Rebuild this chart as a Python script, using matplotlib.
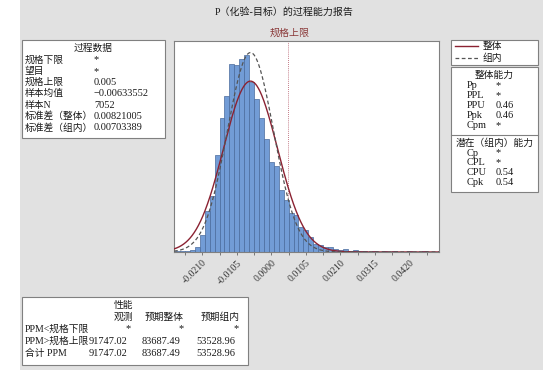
import numpy as np
import matplotlib
matplotlib.use('Agg')
import matplotlib.pyplot as plt
from matplotlib.patches import Rectangle
from matplotlib.lines import Line2D

plt.rcParams['font.family'] = ['Liberation Serif', 'Noto Sans CJK SC']

# histogram bins: midpoint = index * bin_width
bin_width = 0.0015
bin_index = list(range(-19, 34))
counts = [2, 2, 4, 7, 15, 50, 122, 167, 291, 404, 470, 566, 561, 582, 593,
          511, 459, 404, 341, 270, 259, 185, 155, 117, 111, 74, 66, 44, 25,
          20, 15, 14, 8, 5, 10, 4, 7, 3, 2, 1, 2, 1, 2, 1, 2, 1, 1, 2, 1, 1,
          2, 1, 1]

n_total = 7052
mean = -0.00633552
sd_overall = 0.00821005
sd_within = 0.00703389
usl = 0.005

tick_values = [-0.0210, -0.0105, 0.0, 0.0105, 0.0210, 0.0315, 0.0420]
tick_labels = ['-0.0210', '-0.0105', '0.0000', '0.0105', '0.0210', '0.0315', '0.0420']

process_labels = ['规格下限', '望目', '规格上限', '样本均值', '样本N', '标准差（整体）', '标准差（组内）']
process_values = ['*', '*', '0.005', '\u22120.00633552', '7052', '0.00821005', '0.00703389']

overall_labels = ['Pp', 'PPL', 'PPU', 'Ppk', 'Cpm']
overall_values = ['*', '*', '0.46', '0.46', '*']
within_labels = ['Cp', 'CPL', 'CPU', 'Cpk']
within_values = ['*', '*', '0.54', '0.54']

ppm_rows = ['PPM<规格下限', 'PPM>规格上限', '合计 PPM']
ppm_observed = ['*', '91747.02', '91747.02']
ppm_exp_overall = ['*', '83687.49', '83687.49']
ppm_exp_within = ['*', '53528.96', '53528.96']

W, H = 560, 372
fig = plt.figure(figsize=(W / 100, H / 100), dpi=100)
fig.patch.set_facecolor('white')

def fx(x):
    return x / W

def fy(y):
    return 1 - y / H

def box(x0, y0, x1, y1):
    fig.add_artist(Rectangle((fx(x0), fy(y1)), (x1 - x0) / W, (y1 - y0) / H,
                             transform=fig.transFigure, facecolor='white',
                             edgecolor='#808080', lw=0.8))

def txt(x, y, s, ha='left', size=7.5, color='#1a1a1a'):
    fig.text(fx(x), fy(y), s, ha=ha, va='center', fontsize=size, color=color)

# gray report background
fig.add_artist(Rectangle((fx(20), fy(370)), 523 / W, 370 / H, transform=fig.transFigure,
                         facecolor='#e1e1e1', edgecolor='none', zorder=-5))

txt(284, 12, 'P（化验-目标）的过程能力报告', ha='center', size=7.2)

# histogram
ax = fig.add_axes([fx(174), fy(252), 265 / W, 211 / H])
mids = np.array(bin_index) * bin_width
dens = np.array(counts) / (n_total * bin_width)
ax.bar(mids, dens, width=bin_width, color='#729cd6', edgecolor='#4a6b9c', lw=0.5, zorder=2)

xs = np.linspace(-0.0296, 0.0510, 500)
pdf_o = np.exp(-0.5 * ((xs - mean) / sd_overall) ** 2) / (sd_overall * np.sqrt(2 * np.pi))
pdf_w = np.exp(-0.5 * ((xs - mean) / sd_within) ** 2) / (sd_within * np.sqrt(2 * np.pi))
ax.plot(xs, pdf_o, color='#8b2232', lw=1.0, zorder=3)
ax.plot(xs, pdf_w, color='#555555', lw=0.9, ls=(0, (3, 2)), zorder=3)
ax.axvline(usl, color='#b05060', lw=0.6, ls=(0, (1, 1.5)), zorder=1)

ax.set_xlim(-0.0296, 0.0510)
ax.set_ylim(0, 60)
ax.set_yticks([])
ax.set_xticks(tick_values)
ax.set_xticklabels(tick_labels, rotation=45, ha='right', rotation_mode='anchor',
                   fontsize=7, color='#333333')
ax.set_xticks([v + 0.00525 for v in [-0.0315] + tick_values], minor=True)
ax.tick_params(axis='x', which='both', length=2.5, width=0.6, color='#666666', pad=2)
for s in ax.spines.values():
    s.set_color('#808080')
    s.set_linewidth(0.8)

fig.text(fx(290), fy(33), '规格上限', ha='center', va='center', fontsize=7.2, color='#8b3a3a')

# process data box
box(22, 40, 165, 138)
txt(93, 48, '过程数据', ha='center', size=7)
for i, (lab, val) in enumerate(zip(process_labels, process_values)):
    y = 60 + i * 11.3
    txt(25, y, lab, size=7)
    txt(94, y, val)

# legend box
box(451, 40, 538, 65)
fig.add_artist(Line2D([fx(455), fx(478)], [fy(46), fy(46)], transform=fig.transFigure,
                      color='#8b2232', lw=1.0))
fig.add_artist(Line2D([fx(455), fx(478)], [fy(58), fy(58)], transform=fig.transFigure,
                      color='#555555', lw=0.9, ls=(0, (3, 2))))
txt(483, 46, '整体', size=7)
txt(483, 58, '组内', size=7)

# capability boxes
box(451, 67, 538, 192)
fig.add_artist(Line2D([fx(451), fx(538)], [fy(135), fy(135)], transform=fig.transFigure,
                      color='#808080', lw=0.8))
txt(494, 75, '整体能力', ha='center', size=7)
for i, (lab, val) in enumerate(zip(overall_labels, overall_values)):
    y = 86 + i * 9.8
    txt(467, y, lab)
    txt(496, y, val)
txt(494.5, 143, '潜在（组内）能力', ha='center', size=7)
for i, (lab, val) in enumerate(zip(within_labels, within_values)):
    y = 153 + i * 9.8
    txt(467, y, lab)
    txt(496, y, val)

# ppm table
box(22, 297, 248, 365)
txt(133, 305, '性能', ha='right', size=7)
txt(133, 317, '观测', ha='right', size=7)
txt(184, 317, '预期整体', ha='right', size=7)
txt(240, 317, '预期组内', ha='right', size=7)
num_right = [127, 180, 235]
star_right = [131, 184, 239]
for i, lab in enumerate(ppm_rows):
    y = 329 + i * 12
    txt(25, y, lab, size=7)
    for c, col in enumerate([ppm_observed, ppm_exp_overall, ppm_exp_within]):
        v = col[i]
        if v == '*':
            txt(star_right[c], y, v, ha='right')
        else:
            txt(num_right[c], y, v, ha='right')

fig.savefig('out.png', dpi=100)
